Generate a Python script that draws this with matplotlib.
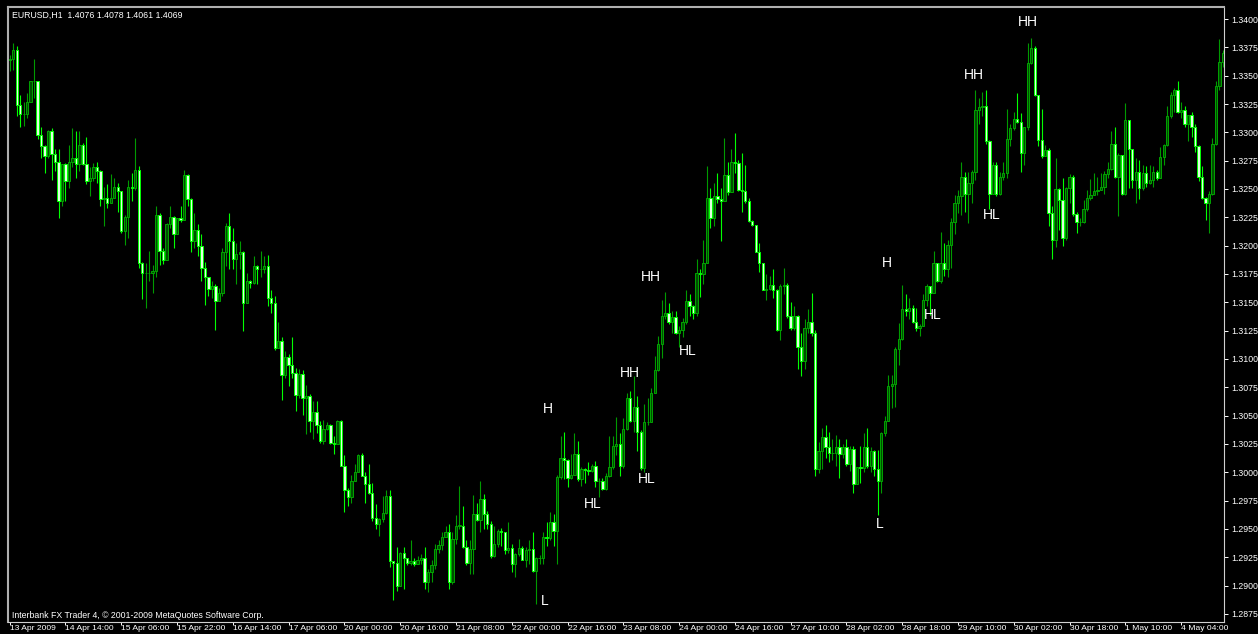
import numpy as np
import matplotlib
matplotlib.use("Agg")
import matplotlib.pyplot as plt
from matplotlib import collections as mc
from matplotlib.patches import Rectangle

# EURUSD H1 candles, values in pips above 1.2800
BASE = 1.2800
PIP = 0.0001
first_open = 564
close_pts = [
    565, 573, 524, 516, 516, 527, 545, 545, 498, 488,
    479, 501, 481, 474, 439, 472, 457, 474, 477, 472,
    489, 472, 457, 460, 469, 466, 441, 442, 438, 442,
    452, 448, 413, 425, 452, 451, 467, 385, 376, 376,
    376, 378, 427, 395, 387, 419, 425, 410, 424, 423,
    462, 441, 404, 414, 400, 380, 372, 362, 364, 351,
    358, 394, 417, 404, 388, 393, 394, 349, 369, 367,
    382, 379, 379, 382, 354, 349, 310, 316, 286, 302,
    295, 288, 268, 287, 266, 267, 245,
    253, 242, 228, 238, 242, 226, 225, 245, 206, 184,
    178, 192, 200, 215, 197, 190, 182, 160, 154, 159,
    164, 179, 122, 120, 100, 129, 124, 120, 122, 119,
    123, 124, 103, 112, 118, 132, 136, 143, 147, 103,
    141, 153, 153, 134, 120, 132, 163, 158, 176, 163,
    154, 126, 137, 148, 147, 131, 133, 119, 128, 133,
    123, 131, 132, 113, 124, 124, 143, 142, 156, 148,
    196, 213, 211, 195, 198, 216, 194, 203, 202, 201,
    206, 192, 192, 185, 197, 205, 223, 225,
    206, 238, 266, 245, 258, 236, 204, 244, 244, 270,
    290, 313, 338, 341, 333, 337, 323, 326, 333, 351,
    347, 341, 376, 375, 385, 442, 424, 444, 441, 439,
    462, 447, 474, 473, 449, 448, 439, 422, 418, 394,
    385, 361, 362, 365, 361, 326, 364, 365, 338, 327,
    338, 311, 298, 327, 333, 323, 203, 219, 231, 222,
    217, 217, 222, 216, 222, 207, 221, 190, 205, 204,
    222, 206, 219, 203, 192, 235, 245, 276, 278, 309,
    318, 344, 342, 345, 333, 327, 329,
    352, 364, 358, 385, 369, 385, 379, 401, 421, 438,
    444, 461, 446, 455, 465, 520, 522, 523, 492, 446,
    471, 446, 461, 464, 494, 504, 512, 509, 482, 505,
    561, 574, 533, 493, 479, 484, 429, 405, 450, 440,
    407, 451, 461, 428, 421, 421, 432, 442, 445, 448,
    449, 452, 463, 468, 490, 461, 480, 446, 511, 485,
    458, 465, 451, 464, 455, 458, 465, 460, 478, 489,
    514, 533, 537, 518, 520, 507, 515, 505, 488, 461,
    442, 438, 446, 490, 541, 562, 570,
]
high_pts = [
    568, 579, 576, 533, 527, 535, 545, 565, 542, 505,
    489, 502, 504, 485, 485, 472, 473, 489, 504, 501,
    501, 491, 496, 469, 473, 474, 467, 452, 454, 463,
    460, 455, 448, 427, 458, 464, 495, 470, 386, 385,
    395, 383, 435, 429, 398, 420, 435, 426, 424, 435,
    467, 463, 442, 429, 419, 410, 386, 372, 369, 366,
    363, 398, 420, 429, 416, 402, 404, 395, 376, 370,
    391, 383, 395, 391, 392, 361, 356, 333, 319, 307,
    304, 319, 292, 291, 290, 277, 269,
    263, 263, 245, 246, 244, 243, 232, 246, 246, 215,
    186, 198, 207, 216, 217, 200, 207, 191, 172, 160,
    179, 184, 184, 122, 134, 130, 134, 124, 140, 124,
    126, 128, 134, 115, 123, 137, 140, 147, 153, 154,
    147, 162, 188, 170, 140, 140, 180, 173, 192, 181,
    166, 157, 153, 150, 151, 147, 156, 137, 129, 141,
    135, 134, 140, 147, 125, 127, 147, 156, 165, 163,
    198, 232, 236, 212, 216, 235, 228, 205, 204, 209,
    207, 210, 195, 195, 199, 232, 232, 249,
    235, 248, 270, 272, 285, 267, 237, 260, 266, 274,
    303, 320, 352, 359, 349, 342, 342, 329, 336, 361,
    357, 348, 388, 379, 405, 470, 451, 455, 464, 451,
    495, 474, 485, 499, 476, 482, 471, 442, 423, 417,
    402, 384, 375, 373, 379, 362, 366, 380, 367, 350,
    347, 339, 323, 335, 344, 358, 326, 227, 239, 242,
    236, 229, 233, 229, 225, 229, 223, 223, 205, 223,
    235, 239, 222, 220, 220, 236, 250, 286, 286, 311,
    332, 365, 357, 354, 348, 345, 331,
    357, 366, 360, 395, 385, 412, 402, 405, 424, 445,
    449, 474, 465, 465, 467, 537, 530, 536, 537, 493,
    474, 474, 465, 474, 521, 507, 518, 535, 517, 505,
    579, 583, 576, 533, 521, 489, 486, 435, 477, 451,
    460, 452, 463, 462, 430, 424, 440, 449, 459, 464,
    461, 464, 466, 474, 501, 505, 482, 477, 526, 511,
    483, 477, 476, 471, 470, 471, 470, 467, 487, 490,
    523, 536, 539, 545, 527, 523, 515, 518, 507, 489,
    470, 443, 448, 495, 545, 582, 573,
]
low_pts = [
    554, 555, 514, 505, 506, 513, 527, 530, 494, 477,
    464, 477, 458, 466, 424, 435, 439, 451, 469, 460,
    466, 471, 454, 444, 457, 455, 435, 417, 433, 438,
    442, 430, 411, 401, 407, 439, 449, 380, 353, 345,
    369, 358, 372, 383, 384, 388, 416, 398, 410, 421,
    435, 435, 394, 398, 391, 369, 348, 356, 354, 326,
    354, 356, 382, 379, 379, 366, 379, 325, 351, 363,
    366, 366, 372, 376, 347, 341, 308, 310, 264, 283,
    276, 283, 254, 266, 251, 234, 236,
    229, 235, 226, 225, 237, 225, 216, 238, 206, 165,
    170, 173, 192, 200, 197, 173, 181, 157, 150, 144,
    156, 163, 116, 87, 95, 100, 97, 118, 118, 117,
    119, 119, 97, 94, 103, 115, 129, 131, 143, 97,
    101, 137, 150, 133, 118, 110, 110, 157, 147, 150,
    150, 124, 125, 134, 135, 128, 129, 112, 108, 126,
    123, 116, 119, 112, 84, 119, 119, 135, 140, 135,
    119, 194, 194, 187, 194, 198, 192, 188, 191, 198,
    200, 187, 178, 184, 184, 196, 203, 215,
    197, 204, 237, 244, 236, 219, 202, 200, 242, 244,
    270, 289, 301, 335, 331, 323, 322, 311, 319, 331,
    338, 335, 338, 355, 366, 385, 416, 417, 438, 404,
    441, 445, 447, 464, 448, 430, 438, 421, 417, 394,
    377, 361, 352, 361, 354, 325, 317, 357, 336, 326,
    326, 291, 285, 291, 323, 320, 197, 199, 203, 213,
    209, 211, 206, 195, 213, 206, 201, 182, 190, 191,
    200, 204, 200, 197, 162, 182, 232, 245, 257, 258,
    295, 317, 338, 335, 332, 325, 320,
    331, 347, 339, 358, 368, 367, 373, 372, 380, 410,
    429, 427, 430, 420, 438, 458, 507, 514, 490, 432,
    446, 444, 445, 458, 460, 488, 502, 508, 465, 471,
    502, 560, 532, 488, 477, 479, 417, 388, 399, 414,
    400, 405, 438, 426, 411, 417, 420, 431, 440, 445,
    445, 449, 446, 460, 467, 460, 426, 445, 445, 451,
    451, 438, 441, 449, 452, 454, 452, 458, 470, 471,
    488, 513, 518, 517, 513, 505, 492, 496, 483, 457,
    441, 423, 411, 445, 489, 537, 558,
]

time_labels = ["13 Apr 2009", "14 Apr 14:00", "15 Apr 06:00", "15 Apr 22:00",
               "16 Apr 14:00", "17 Apr 06:00", "20 Apr 00:00", "20 Apr 16:00",
               "21 Apr 08:00", "22 Apr 00:00", "22 Apr 16:00", "23 Apr 08:00",
               "24 Apr 00:00", "24 Apr 16:00", "27 Apr 10:00", "28 Apr 02:00",
               "28 Apr 18:00", "29 Apr 10:00", "30 Apr 02:00", "30 Apr 18:00",
               "1 May 10:00", "4 May 04:00"]
time_label_bars = list(range(0, 16 * len(time_labels), 16))
price_ticks = [1.2875, 1.2900, 1.2925, 1.2950, 1.2975, 1.3000, 1.3025, 1.3050,
               1.3075, 1.3100, 1.3125, 1.3150, 1.3175, 1.3200, 1.3225, 1.3250,
               1.3275, 1.3300, 1.3325, 1.3350, 1.3375, 1.3400]

# swing labels: text, bar, price
swing_labels = [("H", 154.4, 1.3056), ("L", 153.6, 1.2886), ("HL", 167.3, 1.2972),
                ("HH", 177.9, 1.3088), ("HL", 182.8, 1.2994), ("HH", 184.0, 1.3172),
                ("HL", 194.6, 1.3107), ("H", 251.7, 1.3185), ("L", 249.7, 1.2954),
                ("HL", 264.9, 1.3139), ("HH", 276.6, 1.3351), ("HL", 281.8, 1.3227),
                ("HH", 292.1, 1.3397)]

close = BASE + np.array(close_pts) * PIP
high = BASE + np.array(high_pts) * PIP
low = BASE + np.array(low_pts) * PIP
opens = np.concatenate([[BASE + first_open * PIP], close[:-1]])

W, H = 1258, 634
fig = plt.figure(figsize=(W / 100, H / 100), dpi=100, facecolor="black")
ax = fig.add_axes([8 / W, 12 / H, (1224 - 8) / W, (627 - 12) / H])
ax.set_facecolor("black")

FONT = ["Liberation Sans", "DejaVu Sans"]
bw = 0.66
wicks, wick_cols = [], []
for i in range(len(close)):
    o, c = opens[i], close[i]
    top, bot = max(o, c), min(o, c)
    up = c >= o
    wick_cols.append("#009a00" if up else "#00ff00")
    wicks.append([(i, max(high[i], top)), (i, min(low[i], bot))])
ax.add_collection(mc.LineCollection(wicks, colors=wick_cols, linewidths=0.8, zorder=2))
for i in range(len(close)):
    o, c = opens[i], close[i]
    bot, h = min(o, c), abs(c - o)
    if c >= o:
        fc, ec = "#004e00", "#00a400"
    else:
        fc, ec = "#e0ffe0", "#00ff00"
    ax.add_patch(Rectangle((i - bw / 2, bot), bw, max(h, 0.00001),
                           facecolor=fc, edgecolor=ec, linewidth=0.7, zorder=3))

for txt, b, p in swing_labels:
    ax.text(b, p, txt, color="white", fontsize=10, family=FONT,
            ha="center", va="center", zorder=5)

ax.set_xlim(-0.49, 348.3)
ax.set_ylim(1.28679, 1.34106)

ax.yaxis.tick_right()
ax.set_yticks(price_ticks)
ax.set_yticklabels(["%.4f" % t for t in price_ticks], family=FONT)
ax.set_xticks(time_label_bars)
ax.set_xticklabels(time_labels, ha="left", family=FONT)
ax.tick_params(axis="y", colors="white", labelsize=6.3, length=3, width=0.7, pad=2)
ax.tick_params(axis="x", colors="white", labelsize=6.1, length=2, width=0.7, pad=0.2)

for side in ["left", "top"]:
    ax.spines[side].set_color("#b0b0b0")
    ax.spines[side].set_linewidth(1.5)
for side in ["right", "bottom"]:
    ax.spines[side].set_color("#d0d0d0")
    ax.spines[side].set_linewidth(0.8)

fig.text(12.5 / W, 1 - 15 / H, "EURUSD,H1  1.4076 1.4078 1.4061 1.4069",
         color="white", fontsize=6.3, family=FONT, ha="left", va="center")
fig.text(12 / W, 1 - 615 / H, "Interbank FX Trader 4, \u00a9 2001-2009 MetaQuotes Software Corp.",
         color="white", fontsize=6.3, family=FONT, ha="left", va="center")

fig.savefig("out.png", dpi=100, facecolor="black")
